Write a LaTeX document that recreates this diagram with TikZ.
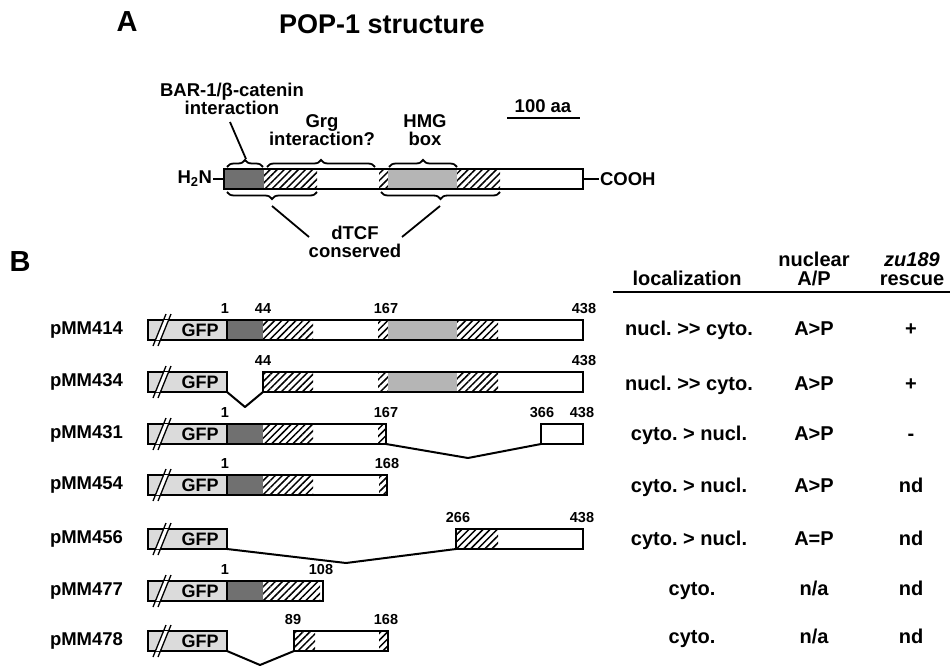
\documentclass[tikz,border=0pt]{standalone}
\usepackage{fontspec}
\setmainfont{Liberation Sans}
\usetikzlibrary{patterns.meta,decorations.pathreplacing}

\definecolor{popdark}{gray}{0.44}
\definecolor{hmggray}{gray}{0.71}
\definecolor{gfpgray}{gray}{0.86}

\newcommand{\fsz}[1]{\fontsize{#1}{#1}\selectfont\bfseries}
\newcommand{\popseg}[4]{\fill[#1] (#2,#4-10) rectangle (#3,#4+10);}
\newcommand{\pophatch}[3]{\path[hatch] (#1,#3-10) rectangle (#2,#3+10);}
\newcommand{\popbar}[3]{\draw[outline] (#1,#3-10) rectangle (#2,#3+10);}
\newcommand{\gfpbox}[2]{%
  \fill[gfpgray] (148,#1-10) rectangle (227,#1+10);
  \draw[outline] (148,#1-10) rectangle (227,#1+10);
  \fill[white] (155.4,#1+10) -- (160.4,#1+10) -- (168.6,#1-10) -- (163.6,#1-10) -- cycle;
  \draw[slash] (153,#1+16) -- (166,#1-16);
  \draw[slash] (158,#1+16) -- (171,#1-16);
  \node[gfplbl] (gfp#2) at (200,#1) {GFP};}

\begin{document}
\frenchspacing
\begin{tikzpicture}[x=1pt, y=-1pt, line width=2pt,
  outline/.style={line width=2.4pt},
  slash/.style={line width=1.3pt},
  hatch/.style={pattern={Lines[angle=45,distance=5pt,line width=1.5pt]}},
  del/.style={line width=2pt, line join=round},
  bracedown/.style={decorate, decoration={brace, amplitude=7pt}, line width=1.8pt},
  big/.style={font=\fsz{29}, inner sep=0pt},
  txt/.style={font=\fsz{18.5}, inner sep=0pt, align=center},
  gfplbl/.style={font=\fsz{18}, inner sep=0pt},
  cname/.style={font=\fsz{18.5}, inner sep=0pt, anchor=east},
  num/.style={font=\fsz{14.5}, inner sep=0pt},
  tab/.style={font=\fsz{20}, inner sep=0pt, text height=14.5pt, text depth=4pt}]
  \useasboundingbox (0,0) rectangle (950,666);

  % A: POP-1 structure
  \node[big] (lblA) at (127,22) {A};
  \node[big, font=\fsz{27}] (title) at (382,24) {POP-1 structure};

  \popseg{popdark}{224}{264}{179}
  \pophatch{264}{317}{179}
  \pophatch{379}{388}{179}
  \popseg{hmggray}{388}{457}{179}
  \pophatch{457}{500}{179}
  \popbar{224}{583}{179}
  \node[txt, anchor=east] (nterm) at (213,179) {H\textsubscript{2}N};
  \node[txt, anchor=west] (cterm) at (599,179) {COOH};
  \coordinate (nend) at (224,179);
  \coordinate (cend) at (583,179);
  \draw[outline] (nterm.east) -- (nend);
  \draw[outline] (cend) -- (cterm.west);

  \draw[bracedown] (227,167) -- (263,167);
  \draw[bracedown] (267,167) -- (375,167);
  \draw[bracedown] (389,167) -- (457,167);
  \draw[bracedown] (317,192) -- (227,192);
  \draw[bracedown] (500,192) -- (381,192);

  \node[txt] (barint) at (232,99) {BAR-1/β-catenin\\interaction};
  \node[txt] (grgint) at (322,130) {Grg\\interaction?};
  \node[txt] (hmgbox) at (425,130) {HMG\\box};
  \node[txt] (dtcf) at (355,242) {dTCF\\conserved};
  \coordinate (bartip) at (246,159);
  \coordinate (dtcfl) at (272,206);
  \coordinate (dtcfr) at (440,206);
  \draw[line width=1.8pt] (230,122) -- (bartip);
  \draw[line width=1.8pt] (dtcfl) -- (309,237);
  \draw[line width=1.8pt] (dtcfr) -- (402,237);

  \node[txt] (scale) at (543,106) {100 aa};
  \coordinate (scalel) at (507,118);
  \coordinate (scaler) at (580,118);
  \draw[outline] (scalel) -- (scaler);

  % B: constructs
  \node[big] (lblB) at (20,262) {B};

  % pMM414
  \node[cname] (c414) at (124,330) {pMM414};
  \gfpbox{330}{414}
  \popseg{popdark}{227}{263}{330}
  \pophatch{263}{313}{330}
  \pophatch{378}{388}{330}
  \popseg{hmggray}{388}{457}{330}
  \pophatch{457}{498}{330}
  \popbar{227}{583}{330}
  \node[num] (n414a) at (225,309) {1};
  \node[num] (n414b) at (263,309) {44};
  \node[num] (n414c) at (386,309) {167};
  \node[num] (n414d) at (584,309) {438};

  % pMM434
  \node[cname] (c434) at (124,382) {pMM434};
  \gfpbox{382}{434}
  \pophatch{263}{313}{382}
  \pophatch{378}{388}{382}
  \popseg{hmggray}{388}{457}{382}
  \pophatch{457}{498}{382}
  \popbar{263}{583}{382}
  \coordinate (v434) at (245,407);
  \draw[del] (227,392) -- (v434) -- (263,392);
  \node[num] (n434b) at (263,361) {44};
  \node[num] (n434d) at (584,361) {438};

  % pMM431
  \node[cname] (c431) at (124,434) {pMM431};
  \gfpbox{434}{431}
  \popseg{popdark}{227}{263}{434}
  \pophatch{263}{313}{434}
  \pophatch{378}{386}{434}
  \popbar{227}{386}{434}
  \popbar{541}{583}{434}
  \coordinate (v431) at (468,458);
  \draw[del] (386,444) -- (v431) -- (541,444);
  \node[num] (n431a) at (225,413) {1};
  \node[num] (n431c) at (386,413) {167};
  \node[num] (n431e) at (542,413) {366};
  \node[num] (n431d) at (582,413) {438};

  % pMM454
  \node[cname] (c454) at (124,485) {pMM454};
  \gfpbox{485}{454}
  \popseg{popdark}{227}{263}{485}
  \pophatch{263}{313}{485}
  \pophatch{379}{387}{485}
  \popbar{227}{387}{485}
  \node[num] (n454a) at (225,464) {1};
  \node[num] (n454c) at (387,464) {168};

  % pMM456
  \node[cname] (c456) at (124,539) {pMM456};
  \gfpbox{539}{456}
  \pophatch{456}{498}{539}
  \popbar{456}{583}{539}
  \coordinate (v456) at (346,563);
  \draw[del] (227,549) -- (v456) -- (456,549);
  \node[num] (n456e) at (458,518) {266};
  \node[num] (n456d) at (582,518) {438};

  % pMM477
  \node[cname] (c477) at (124,591) {pMM477};
  \gfpbox{591}{477}
  \popseg{popdark}{227}{263}{591}
  \pophatch{263}{320}{591}
  \popbar{227}{323}{591}
  \node[num] (n477a) at (225,570) {1};
  \node[num] (n477c) at (321,570) {108};

  % pMM478
  \node[cname] (c478) at (124,641) {pMM478};
  \gfpbox{641}{478}
  \pophatch{294}{315}{641}
  \pophatch{379}{388}{641}
  \popbar{294}{388}{641}
  \coordinate (v478) at (260,665);
  \draw[del] (227,651) -- (v478) -- (294,651);
  \node[num] (n478b) at (293,620) {89};
  \node[num] (n478c) at (386,620) {168};

  % table
  \node[tab] (hloc) at (687,280) {localization};
  \node[tab] (hnuc) at (814,261) {nuclear};
  \node[tab] (hap) at (814,280) {A/P};
  \node[tab, font=\fsz{20}\itshape] (hzu) at (912,261) {zu189};
  \node[tab] (hres) at (912,280) {rescue};
  \coordinate (rulel) at (613,292);
  \coordinate (ruler) at (950,292);
  \draw[outline] (rulel) -- (ruler);

  \node[tab] (l414) at (689,330) {nucl. >{}> cyto.};
  \node[tab] (a414) at (814,330) {A>P};
  \node[tab] (r414) at (911,330) {+};
  \node[tab] (l434) at (689,385) {nucl. >{}> cyto.};
  \node[tab] (a434) at (814,385) {A>P};
  \node[tab] (r434) at (911,385) {+};
  \node[tab] (l431) at (689,435) {cyto. > nucl.};
  \node[tab] (a431) at (814,435) {A>P};
  \node[tab] (r431) at (911,435) {-};
  \node[tab] (l454) at (689,487) {cyto. > nucl.};
  \node[tab] (a454) at (814,487) {A>P};
  \node[tab] (r454) at (911,487) {nd};
  \node[tab] (l456) at (689,540) {cyto. > nucl.};
  \node[tab] (a456) at (814,540) {A=P};
  \node[tab] (r456) at (911,540) {nd};
  \node[tab] (l477) at (692,590) {cyto.};
  \node[tab] (a477) at (814,590) {n/a};
  \node[tab] (r477) at (911,590) {nd};
  \node[tab] (l478) at (692,638) {cyto.};
  \node[tab] (a478) at (814,638) {n/a};
  \node[tab] (r478) at (911,638) {nd};
\end{tikzpicture}
\end{document}
